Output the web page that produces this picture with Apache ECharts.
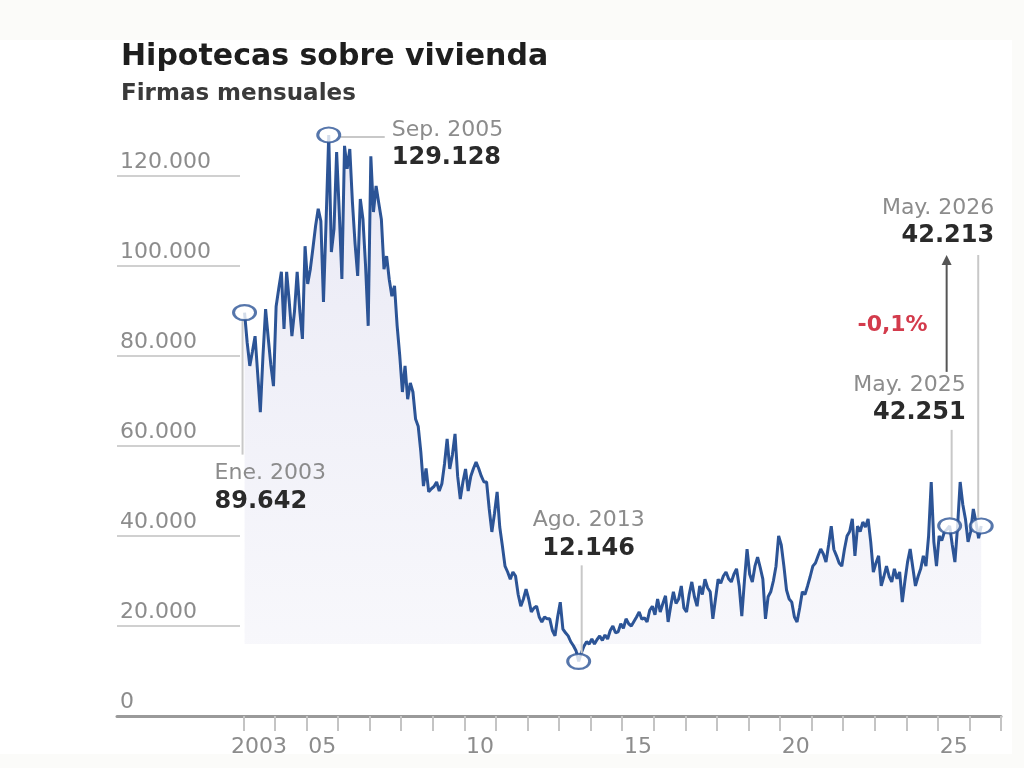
<!DOCTYPE html>
<html>
<head>
<meta charset="utf-8">
<title>Hipotecas sobre vivienda</title>
<style>
  html, body { margin: 0; padding: 0; background: #fbfbf9; }
  #panel { position: absolute; left: 0; top: 40px; width: 1012px; height: 714px; background: #fff; }
  #chart-container { position: absolute; left: 0; top: 0; width: 1024px; height: 768px; }
</style>
<script src="https://cdn.jsdelivr.net/npm/echarts@6/dist/echarts.min.js"></script>
</head>
<body>
<div id="panel"></div>
<div id="chart-container"></div>
<script>
// firmas mensuales de hipotecas sobre vivienda (ene..dic)
var startYear = 2003;
var m2003 = [89642, 83000, 77800, 81000, 84400, 76000, 67500, 80000, 90400, 84000, 78000, 73300];
var m2004 = [91000, 95000, 98700, 86000, 98700, 92000, 84400, 90000, 98700, 90000, 83800, 104400];
var m2005 = [96000, 99300, 104000, 108900, 112700, 110000, 92000, 110000, 129128, 103100, 108200, 125300];
var m2006 = [112000, 97100, 126700, 121600, 126000, 114200, 105000, 97800, 114900, 110400, 100000, 86700];
var m2007 = [124400, 112000, 117800, 114000, 110400, 99300, 102200, 97000, 93300, 95600, 86700, 80000];
var m2008 = [72000, 77800, 70400, 74000, 72000, 66000, 64400, 58700, 51100, 55000, 49800, 50500];
var m2009 = [51000, 52000, 50000, 51600, 56000, 61600, 54900, 58000, 62700, 53300, 48200, 52000];
var m2010 = [54900, 50000, 53300, 55000, 56400, 55000, 53300, 52000, 52000, 46000, 40900, 45000];
var m2011 = [49800, 42000, 37800, 33300, 32000, 30400, 32000, 31100, 27000, 24400, 26000, 28200];
var m2012 = [26000, 23100, 24000, 24400, 22000, 20900, 22000, 21600, 21600, 19000, 17800, 22000];
var m2013 = [25300, 19300, 18500, 17800, 16500, 15600, 14500, 12146, 14000, 15500, 16500, 16000];
var m2014 = [17100, 16000, 17000, 17800, 16800, 18000, 17100, 19000, 20000, 18500, 18700, 20500];
var m2015 = [19500, 21600, 20500, 20000, 21000, 22000, 23100, 21500, 21800, 20900, 23500, 24400];
var m2016 = [22500, 26000, 23100, 25000, 26700, 20900, 24500, 27600, 25000, 26000, 28900, 24000];
var m2017 = [23100, 27000, 29800, 26500, 24400, 28900, 27000, 30400, 28500, 27600, 21600, 26000];
var m2018 = [30400, 29500, 31100, 32000, 30500, 29800, 31500, 32700, 28900, 22200, 30000, 37100];
var m2019 = [31500, 29800, 33300, 35300, 33000, 30400, 21600, 26500, 27600, 30000, 33300, 40000];
var m2020 = [38000, 33300, 28000, 26000, 25300, 22000, 20900, 24000, 27600, 27000, 28900, 31000];
var m2021 = [33300, 34000, 35600, 37100, 36000, 34200, 38000, 42200, 37000, 35600, 34000, 33300];
var m2022 = [37000, 40000, 41000, 43800, 35600, 42200, 41000, 43100, 42000, 43800, 38700, 32000];
var m2023 = [34000, 35600, 28900, 31000, 33300, 31000, 29800, 32700, 30500, 32000, 25300, 30000];
var m2024 = [34200, 37100, 33000, 28900, 31000, 32700, 35600, 33300, 40000, 52000, 38700, 33300];
var m2025 = [40000, 39000, 40900, 41500, 42251, 38000, 34200, 42000, 52000, 47000, 43800, 38700];
var m2026 = [41000, 46000, 43100, 39500, 42213];
var monthly = [m2003, m2004, m2005, m2006, m2007, m2008, m2009, m2010, m2011, m2012, m2013, m2014,
  m2015, m2016, m2017, m2018, m2019, m2020, m2021, m2022, m2023, m2024, m2025, m2026];

// ejes
var yTicks = [0, 20000, 40000, 60000, 80000, 100000, 120000];
var xTicks = [2003, 2004, 2005, 2006, 2007, 2008, 2009, 2010, 2011, 2012, 2013, 2014, 2015,
  2016, 2017, 2018, 2019, 2020, 2021, 2022, 2023, 2024, 2025, 2026, 2027];
var xLabelYears = [2003, 2005, 2010, 2015, 2020, 2025];

// puntos destacados
var noteLabels = ['Ene. 2003', 'Sep. 2005', 'Ago. 2013', 'May. 2025', 'May. 2026'];
var noteYears = [2003, 2005, 2013, 2025, 2026];
var noteMonths = [0, 8, 7, 4, 4];

var blue = '#2c5496';
var grey = '#8c8c8c';
var dark = '#2a2a2a';
var font = 'DejaVu Sans';

function fmt(v) {
  return String(v).replace(/\B(?=(\d{3})+(?!\d))/g, '.');
}
function toX(year, month) {
  return year + month / 12 + 0.04;
}

var points = [];
monthly.forEach(function (arr, k) {
  arr.forEach(function (v, m) {
    points.push([toX(startYear + k, m), v]);
  });
});

var notePoints = noteYears.map(function (y, i) {
  return [toX(y, noteMonths[i]), monthly[y - startYear][noteMonths[i]]];
});

var dom = document.getElementById('chart-container');
var myChart = echarts.init(dom);
var option = {
  animation: false,
  title: {
    text: 'Hipotecas sobre vivienda',
    subtext: 'Firmas mensuales',
    left: 116,
    top: 37,
    itemGap: 11,
    textStyle: { fontFamily: font, fontSize: 30, fontWeight: 'bold', color: '#1e1e1e' },
    subtextStyle: { fontFamily: font, fontSize: 23, fontWeight: 'bold', color: '#3a3a3a' }
  },
  grid: { left: 117, right: 23, top: 86, bottom: 52 },
  xAxis: {
    type: 'value',
    min: 1999,
    max: 2027,
    axisLine: { lineStyle: { color: '#9a9a9a', width: 3 } },
    axisTick: {
      customValues: xTicks,
      length: 15,
      lineStyle: { color: '#c4c4c4', width: 2 }
    },
    axisLabel: {
      customValues: xLabelYears.map(function (y) { return y + 0.5; }),
      margin: 20,
      fontFamily: font,
      fontSize: 22,
      color: grey,
      formatter: function (v) {
        var y = Math.floor(v);
        return y === 2003 ? '2003' : String(y).slice(2);
      }
    },
    splitLine: { show: false }
  },
  yAxis: {
    type: 'value',
    min: 0,
    max: 140000,
    axisLine: { show: false },
    axisTick: {
      customValues: yTicks.slice(1),
      inside: true,
      length: 123,
      lineStyle: { color: '#d0d0d0', width: 2 }
    },
    axisLabel: {
      customValues: yTicks,
      inside: true,
      margin: 3,
      align: 'left',
      verticalAlign: 'bottom',
      padding: [0, 0, 3, 0],
      fontFamily: font,
      fontSize: 22,
      color: grey,
      formatter: function (v) { return fmt(v); }
    },
    splitLine: { show: false }
  },
  series: [
    {
      name: 'Firmas',
      type: 'line',
      data: points,
      showSymbol: false,
      lineStyle: { color: blue, width: 3 },
      areaStyle: {
        origin: 16000,
        color: new echarts.graphic.LinearGradient(0, 0, 0, 1, [
          { offset: 0, color: 'rgba(214, 214, 236, 0.75)' },
          { offset: 1, color: 'rgba(242, 242, 249, 0.75)' }
        ])
      },
      z: 2
    },
    {
      name: 'Destacados',
      type: 'scatter',
      data: notePoints,
      symbol: 'circle',
      symbolSize: [22, 15],
      itemStyle: { color: '#fff', borderColor: blue, borderWidth: 2.5 },
      z: 5
    }
  ]
};
myChart.setOption(option, true);

// anotaciones, colocadas respecto a cada punto
var px = notePoints.map(function (p) {
  return myChart.convertToPixel({ gridIndex: 0 }, p);
});
var noteLayout = [
  { line: [-2, 8, -2, 142], tx: -30, ty: 161, align: 'left' },
  { line: [12, 2, 56, 2], tx: 63, ty: -5, align: 'left' },
  { line: [3, -8, 3, -96], tx: 10, ty: -141, align: 'center' },
  { line: [2, -8, 2, -96], tx: 16, ty: -141, align: 'right' },
  { line: [-3, -8, -3, -271], tx: 13, ty: -318, align: 'right' }
];
var elements = [];
noteLayout.forEach(function (l, i) {
  var p = px[i];
  elements.push({
    type: 'line',
    shape: { x1: p[0] + l.line[0], y1: p[1] + l.line[1], x2: p[0] + l.line[2], y2: p[1] + l.line[3] },
    style: { stroke: '#c8c8c8', lineWidth: 2 },
    z: 3
  });
  elements.push({
    type: 'text',
    x: p[0] + l.tx,
    y: p[1] + l.ty,
    z: 10,
    style: { text: noteLabels[i], fill: grey, font: '22px "' + font + '"', align: l.align, verticalAlign: 'middle' }
  });
  elements.push({
    type: 'text',
    x: p[0] + l.tx,
    y: p[1] + l.ty + 28,
    z: 10,
    style: { text: fmt(notePoints[i][1]), fill: dark, font: 'bold 24px "' + font + '"', align: l.align, verticalAlign: 'middle' }
  });
});

// flecha de variacion interanual
var a = px[3], b = px[4];
var ax = a[0] - 3;
var topY = b[1] - 271;
var change = (notePoints[4][1] - notePoints[3][1]) / notePoints[3][1] * 100;
elements.push({
  type: 'line',
  z: 10,
  shape: { x1: ax, y1: a[1] - 154, x2: ax, y2: topY + 8 },
  style: { stroke: '#555', lineWidth: 2 }
});
elements.push({
  type: 'polygon',
  z: 10,
  shape: { points: [[ax, topY], [ax - 5, topY + 10], [ax + 5, topY + 10]] },
  style: { fill: '#555' }
});
elements.push({
  type: 'text',
  x: a[0] - 22,
  y: a[1] - 201,
  z: 10,
  style: {
    text: change.toFixed(1).replace('.', ',') + '%',
    fill: '#d33b4c',
    font: 'bold 22px "' + font + '"',
    align: 'right',
    verticalAlign: 'middle'
  }
});
myChart.setOption({ graphic: { elements: elements } });
</script>
</body>
</html>
